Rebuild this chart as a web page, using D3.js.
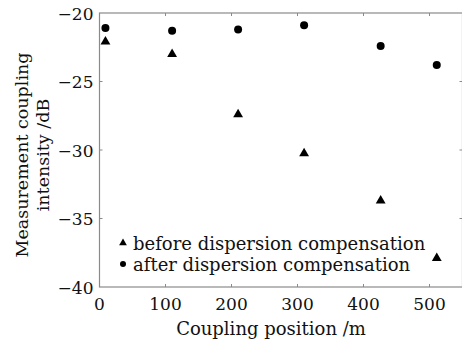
<!DOCTYPE html>
<html>
<head>
<meta charset="utf-8">
<script src="https://cdn.jsdelivr.net/npm/d3@7"></script>
<style>
  body { margin: 0; background: #fff; }
  text { font-family: "DejaVu Serif", serif; fill: #111; }
</style>
</head>
<body>
<svg id="chart" width="462" height="339"></svg>
<script>
// Data
const positions = [9, 110, 210, 310, 426, 511];
const beforeComp = [-22.1, -23.0, -27.4, -30.25, -33.7, -37.9];
const afterComp = [-21.1, -21.3, -21.2, -20.9, -22.4, -23.8];
const xTicks = [0, 100, 200, 300, 400, 500];
const yTicks = [-20, -25, -30, -35, -40];
const legendLabels = ['before dispersion compensation', 'after dispersion compensation'];

const svg = d3.select('#chart');
const margin = {left: 99.5, top: 13, right: 0, bottom: 52};
const width = 462.5 - margin.left - margin.right;
const height = 339 - margin.top - margin.bottom;

const x = d3.scaleLinear().domain([0, 550]).range([0, width]);
const y = d3.scaleLinear().domain([-40, -20]).range([height, 0]);

const g = svg.append('g').attr('transform', `translate(${margin.left},${margin.top})`);

// frame, ticks pointing inwards on every side
const frameColour = '#8a8a8a';
g.append('rect').attr('width', width).attr('height', height)
  .attr('fill', 'none').attr('stroke', frameColour).attr('stroke-width', 1.2);

const tickLen = 3;
const xTickPos = xTicks.filter(d => d > 0);
g.selectAll('.xt-b').data(xTickPos).join('line')
  .attr('x1', d => x(d)).attr('x2', d => x(d))
  .attr('y1', height).attr('y2', height - tickLen)
  .attr('stroke', frameColour);
g.selectAll('.xt-t').data(xTickPos).join('line')
  .attr('x1', d => x(d)).attr('x2', d => x(d))
  .attr('y1', 0).attr('y2', tickLen)
  .attr('stroke', frameColour);
const yTickPos = yTicks.filter(d => d > -40 && d < -20);
g.selectAll('.yt-l').data(yTickPos).join('line')
  .attr('x1', 0).attr('x2', tickLen)
  .attr('y1', d => y(d)).attr('y2', d => y(d))
  .attr('stroke', frameColour);
g.selectAll('.yt-r').data(yTickPos).join('line')
  .attr('x1', width).attr('x2', width - tickLen)
  .attr('y1', d => y(d)).attr('y2', d => y(d))
  .attr('stroke', frameColour);

// tick labels
g.selectAll('.xl').data(xTicks).join('text')
  .attr('x', d => x(d)).attr('y', height + 23)
  .attr('text-anchor', 'middle').attr('font-size', 17)
  .text(d => d);
g.selectAll('.yl').data(yTicks).join('text')
  .attr('x', -6).attr('y', d => y(d) + 6.5)
  .attr('text-anchor', 'end').attr('font-size', 17)
  .text(d => '\u2212' + Math.abs(d));

// axis titles
svg.append('text')
  .attr('x', 271).attr('y', 335)
  .attr('text-anchor', 'middle').attr('font-size', 18)
  .text('Coupling position /m');
const yTitle = svg.append('text')
  .attr('transform', 'translate(0,155) rotate(-90)')
  .attr('text-anchor', 'middle').attr('font-size', 17.5);
yTitle.append('tspan').attr('x', 0).attr('y', 28).text('Measurement coupling');
yTitle.append('tspan').attr('x', 0).attr('y', 49).text('intensity /dB');

// markers
const tri = d3.symbol().type(d3.symbolTriangle).size(42);
const data = positions.map((p, i) => ({p, b: beforeComp[i], a: afterComp[i]}));
g.selectAll('.before').data(data).join('path')
  .attr('d', tri)
  .attr('transform', d => `translate(${x(d.p)},${y(d.b)})`)
  .attr('fill', '#000');
g.selectAll('.after').data(data).join('circle')
  .attr('cx', d => x(d.p)).attr('cy', d => y(d.a))
  .attr('r', 4).attr('fill', '#000');

// legend
const legendTri = d3.symbol().type(d3.symbolTriangle).size(26);
const legend = g.append('g').attr('transform', 'translate(23.5,230)');
legend.append('path').attr('d', legendTri).attr('fill', '#000');
legend.append('circle').attr('cx', 0).attr('cy', 21).attr('r', 3).attr('fill', '#000');
legend.selectAll('.lt').data(legendLabels).join('text')
  .attr('x', 10).attr('y', (d, i) => i * 21 + 6.5)
  .attr('font-size', 18)
  .text(d => d);
</script>
</body>
</html>
